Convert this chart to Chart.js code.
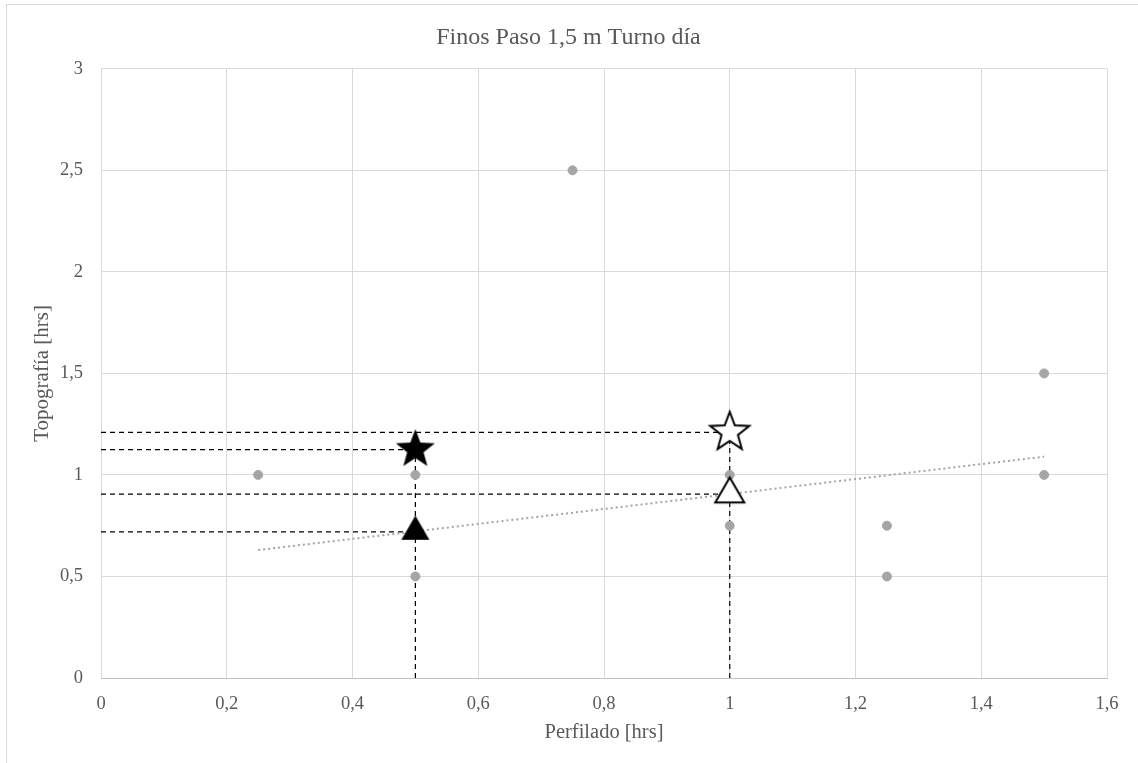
<!DOCTYPE html>
<html>
<head>
<meta charset="utf-8">
<title>Finos Paso 1,5 m Turno día</title>
<script src="https://cdn.jsdelivr.net/npm/chart.js@4/dist/chart.umd.min.js"></script>
<style>
  html, body { margin: 0; padding: 0; background: #fff; }
  #wrap { position: relative; width: 1138px; height: 763px; overflow: hidden; }
  #marco { position: absolute; left: 6px; top: 4px; width: 1150px; height: 780px;
           border: 1px solid #d9d9d9; pointer-events: none; }
</style>
</head>
<body>
<div id="wrap">
  <canvas id="grafico" width="1138" height="763"></canvas>
  <div id="marco"></div>
</div>
<script>
// Mediciones del turno día (horas)
const perfilado = [0.25, 0.5, 0.5, 0.75, 1, 1, 1.25, 1.25, 1.5, 1.5];
const topografia = [1, 1, 0.5, 2.5, 1, 0.75, 0.75, 0.5, 1.5, 1];

// Línea de tendencia (extremos)
const tendenciaX = [0.25, 1.5];
const tendenciaY = [0.63, 1.09];

// Marcadores de referencia: [perfilado, topografía]
const estrellaNegra = [0.5, 1.125];
const trianguloNegro = [0.5, 0.72];
const estrellaBlanca = [1, 1.21];
const trianguloBlanco = [1, 0.905];

const GRIS = "#a5a5a5";
const TEXTO = "#595959";
const FUENTE = "'Liberation Serif', 'Times New Roman', serif";

function dibujarEstrella(relleno) {
    const c = document.createElement("canvas");
    c.width = 48; c.height = 48;
    const g = c.getContext("2d");
    const R = 20.5, r = R * 0.42, cx = 24, cy = 24;
    g.beginPath();
    for (let i = 0; i < 10; i++) {
        const rad = i % 2 === 0 ? R : r;
        const a = -Math.PI / 2 + i * Math.PI / 5;
        const px = cx + rad * Math.cos(a), py = cy + rad * Math.sin(a);
        i === 0 ? g.moveTo(px, py) : g.lineTo(px, py);
    }
    g.closePath();
    if (relleno) {
        g.fillStyle = "#000";
        g.fill();
    } else {
        g.fillStyle = "#fff";
        g.fill();
        g.lineWidth = 2;
        g.strokeStyle = "#000";
        g.stroke();
    }
    return c;
}

function dibujarTriangulo(relleno, ancho) {
    const c = document.createElement("canvas");
    c.width = 40; c.height = 40;
    const g = c.getContext("2d");
    const h = ancho * Math.sqrt(3) / 2;
    // el centro del lienzo coincide con el centroide
    const cx = 20, cy = 20;
    g.beginPath();
    g.moveTo(cx, cy - h * 2 / 3);
    g.lineTo(cx + ancho / 2, cy + h / 3);
    g.lineTo(cx - ancho / 2, cy + h / 3);
    g.closePath();
    if (relleno) {
        g.fillStyle = "#000";
        g.fill();
    } else {
        g.fillStyle = "#fff";
        g.fill();
        g.lineWidth = 2;
        g.strokeStyle = "#000";
        g.stroke();
    }
    return c;
}

function lineaGuia(datos) {
    return {
        type: "line",
        data: datos,
        borderColor: "#000",
        borderWidth: 1.2,
        borderDash: [5, 4],
        pointRadius: 0,
        fill: false,
        order: 5,
    };
}

function marcador(p, estilo) {
    return {
        type: "scatter",
        data: [{ x: p[0], y: p[1] }],
        pointStyle: estilo,
        pointRadius: 20,
        order: 1,
    };
}

function crearGrafico() {
    const datos = perfilado.map((x, i) => ({ x: x, y: topografia[i] }));
    const tendencia = tendenciaX.map((x, i) => ({ x: x, y: tendenciaY[i] }));

    const ctx = document.getElementById("grafico").getContext("2d");
    new Chart(ctx, {
        type: "scatter",
        data: {
            datasets: [
                {
                    data: datos,
                    backgroundColor: GRIS,
                    borderColor: GRIS,
                    pointRadius: 4.5,
                    order: 3,
                },
                {
                    type: "line",
                    data: tendencia,
                    borderColor: GRIS,
                    borderWidth: 2,
                    borderDash: [2, 3],
                    pointRadius: 0,
                    fill: false,
                    order: 4,
                },
                // líneas de referencia horizontales
                lineaGuia([{ x: 0, y: estrellaBlanca[1] }, { x: estrellaBlanca[0], y: estrellaBlanca[1] }]),
                lineaGuia([{ x: 0, y: estrellaNegra[1] }, { x: estrellaNegra[0], y: estrellaNegra[1] }]),
                lineaGuia([{ x: 0, y: trianguloBlanco[1] }, { x: trianguloBlanco[0], y: trianguloBlanco[1] }]),
                lineaGuia([{ x: 0, y: trianguloNegro[1] }, { x: trianguloNegro[0], y: trianguloNegro[1] }]),
                // líneas de referencia verticales
                lineaGuia([{ x: estrellaNegra[0], y: 0 }, { x: estrellaNegra[0], y: estrellaNegra[1] }]),
                lineaGuia([{ x: estrellaBlanca[0], y: 0 }, { x: estrellaBlanca[0], y: estrellaBlanca[1] }]),
                marcador(estrellaNegra, dibujarEstrella(true)),
                marcador(trianguloNegro, dibujarTriangulo(true, 28)),
                marcador(estrellaBlanca, dibujarEstrella(false)),
                marcador(trianguloBlanco, dibujarTriangulo(false, 29)),
            ],
        },
        options: {
            responsive: false,
            animation: false,
            layout: { padding: { top: 0, right: 31, left: 30, bottom: 18 } },
            plugins: {
                legend: { display: false },
                tooltip: { enabled: false },
                title: {
                    display: true,
                    text: "Finos Paso 1,5 m Turno día",
                    color: TEXTO,
                    font: { family: FUENTE, size: 24, weight: "normal" },
                    padding: { top: 23, bottom: 17 },
                },
            },
            scales: {
                x: {
                    type: "linear",
                    min: 0,
                    max: 1.6,
                    ticks: {
                        stepSize: 0.2,
                        color: TEXTO,
                        font: { family: FUENTE, size: 18.5 },
                        padding: 15,
                        callback: (v) => String(Math.round(v * 10) / 10).replace(".", ","),
                    },
                    grid: { color: "#d9d9d9", lineWidth: 1, drawTicks: false },
                    border: { color: "#bfbfbf" },
                    title: {
                        display: true,
                        text: "Perfilado [hrs]",
                        color: TEXTO,
                        font: { family: FUENTE, size: 20.5 },
                        padding: { top: 2, bottom: 0 },
                    },
                    afterFit: (s) => { s.height = 67; },
                },
                y: {
                    type: "linear",
                    min: 0,
                    max: 3,
                    ticks: {
                        stepSize: 0.5,
                        color: TEXTO,
                        font: { family: FUENTE, size: 18.5 },
                        padding: 18,
                        callback: (v) => String(v).replace(".", ","),
                    },
                    grid: { color: "#d9d9d9", lineWidth: 1, drawTicks: false },
                    border: { color: "#d9d9d9" },
                    title: {
                        display: true,
                        text: "Topografía [hrs]",
                        color: TEXTO,
                        font: { family: FUENTE, size: 21 },
                        padding: { top: 0, bottom: 0 },
                    },
                    afterFit: (s) => { s.width = 71; },
                },
            },
        },
    });
}

// esperar a que la fuente serif esté disponible antes de dibujar
Promise.all([
    document.fonts.load("18px 'Liberation Serif'"),
    document.fonts.load("24px 'Liberation Serif'"),
]).then(crearGrafico, crearGrafico);
</script>
</body>
</html>
